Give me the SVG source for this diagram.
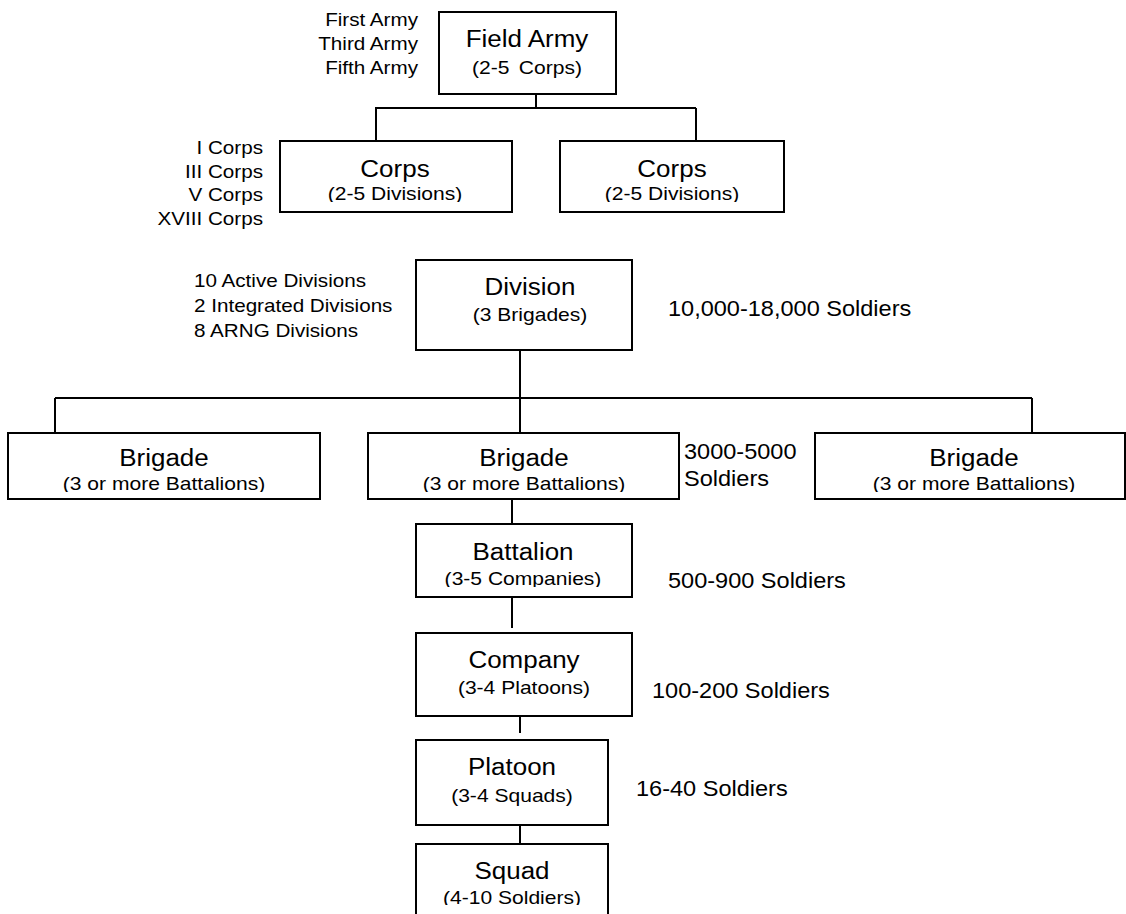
<svg xmlns="http://www.w3.org/2000/svg" width="1126" height="914" viewBox="0 0 1126 914">
<style>
text{font-family:"Liberation Sans",Arial,sans-serif;fill:#000}
.box{fill:#fff;stroke:#000;stroke-width:2}
.ln{fill:none;stroke:#000;stroke-width:2}
.ti{font-size:23px;text-anchor:middle}
.su{font-size:18px;text-anchor:middle}
.sl{font-size:17.5px}
.sr{font-size:17.5px;text-anchor:end}
.so{font-size:22px}
</style>
<defs>
<clipPath id="c-corps1"><rect x="280" y="141" width="232" height="61"/></clipPath>
<clipPath id="c-corps2"><rect x="560" y="141" width="224" height="61"/></clipPath>
<clipPath id="c-brig"><rect x="0" y="433" width="1126" height="59"/></clipPath>
<clipPath id="c-batt"><rect x="416" y="524" width="216" height="63"/></clipPath>
<clipPath id="c-squad"><rect x="416" y="844" width="192" height="61"/></clipPath>
</defs>
<rect width="1126" height="914" fill="#fff"/>
<g id="connectors">
<path class="ln" d="M536 94V108M375 108H696M376 108V141M696 108V141"/>
<path class="ln" d="M520 350V398M55 398H1032M55 398V433M520 398V433M1032 398V433"/>
<path class="ln" d="M512 499V524M512 597V628M520 716V733M520 813V844"/>
</g>
<g id="field-army">
<rect class="box" x="439" y="12" width="177" height="82"/>
<text class="ti" transform="translate(527 47) scale(1.13 1)">Field Army</text>
<text class="su" transform="translate(527 74) scale(1.17 1)" word-spacing="3">(2-5 Corps)</text>
</g>
<g id="army-labels">
<text class="sr" transform="translate(418 26) scale(1.18 1)">First Army</text>
<text class="sr" transform="translate(418 50) scale(1.18 1)">Third Army</text>
<text class="sr" transform="translate(418 74) scale(1.18 1)">Fifth Army</text>
</g>
<g id="corps-1">
<rect class="box" x="280" y="141" width="232" height="71"/>
<text class="ti" transform="translate(395 177) scale(1.13 1)">Corps</text>
<g clip-path="url(#c-corps1)"><text class="su" transform="translate(395 200) scale(1.17 1)">(2-5 Divisions)</text></g>
</g>
<g id="corps-2">
<rect class="box" x="560" y="141" width="224" height="71"/>
<text class="ti" transform="translate(672 177) scale(1.13 1)">Corps</text>
<g clip-path="url(#c-corps2)"><text class="su" transform="translate(672 200) scale(1.17 1)">(2-5 Divisions)</text></g>
</g>
<g id="corps-labels">
<text class="sr" transform="translate(263 154) scale(1.18 1)">I Corps</text>
<text class="sr" transform="translate(263 178) scale(1.18 1)">III Corps</text>
<text class="sr" transform="translate(263 201) scale(1.18 1)">V Corps</text>
<text class="sr" transform="translate(263 225) scale(1.18 1)">XVIII Corps</text>
</g>
<g id="division">
<rect class="box" x="416" y="260" width="216" height="90"/>
<text class="ti" transform="translate(530 295) scale(1.13 1)">Division</text>
<text class="su" transform="translate(530 321) scale(1.17 1)">(3 Brigades)</text>
</g>
<g id="division-labels">
<text class="sl" transform="translate(194 287) scale(1.18 1)">10 Active Divisions</text>
<text class="sl" transform="translate(194 312) scale(1.18 1)">2 Integrated Divisions</text>
<text class="sl" transform="translate(194 337) scale(1.18 1)">8 ARNG Divisions</text>
</g>
<text id="division-size" class="so" transform="translate(668 316) scale(1.07 1)">10,000-18,000 Soldiers</text>
<g id="brigade-1">
<rect class="box" x="8" y="433" width="312" height="66"/>
<text class="ti" transform="translate(164 466) scale(1.13 1)">Brigade</text>
<g clip-path="url(#c-brig)"><text class="su" transform="translate(164 490) scale(1.17 1)">(3 or more Battalions)</text></g>
</g>
<g id="brigade-2">
<rect class="box" x="368" y="433" width="311" height="66"/>
<text class="ti" transform="translate(524 466) scale(1.13 1)">Brigade</text>
<g clip-path="url(#c-brig)"><text class="su" transform="translate(524 490) scale(1.17 1)">(3 or more Battalions)</text></g>
</g>
<g id="brigade-3">
<rect class="box" x="815" y="433" width="310" height="66"/>
<text class="ti" transform="translate(974 466) scale(1.13 1)">Brigade</text>
<g clip-path="url(#c-brig)"><text class="su" transform="translate(974 490) scale(1.17 1)">(3 or more Battalions)</text></g>
</g>
<g id="brigade-size">
<text class="so" transform="translate(684 459) scale(1.07 1)">3000-5000</text>
<text class="so" transform="translate(684 486) scale(1.07 1)">Soldiers</text>
</g>
<g id="battalion">
<rect class="box" x="416" y="524" width="216" height="73"/>
<text class="ti" transform="translate(523 560) scale(1.13 1)">Battalion</text>
<g clip-path="url(#c-batt)"><text class="su" transform="translate(523 585) scale(1.17 1)">(3-5 Companies)</text></g>
</g>
<text id="battalion-size" class="so" transform="translate(668 588) scale(1.07 1)">500-900 Soldiers</text>
<g id="company">
<rect class="box" x="416" y="633" width="216" height="83"/>
<text class="ti" transform="translate(524 668) scale(1.13 1)">Company</text>
<text class="su" transform="translate(524 694) scale(1.17 1)">(3-4 Platoons)</text>
</g>
<text id="company-size" class="so" transform="translate(652 698) scale(1.07 1)">100-200 Soldiers</text>
<g id="platoon">
<rect class="box" x="416" y="740" width="192" height="85"/>
<text class="ti" transform="translate(512 775) scale(1.13 1)">Platoon</text>
<text class="su" transform="translate(512 802) scale(1.17 1)">(3-4 Squads)</text>
</g>
<text id="platoon-size" class="so" transform="translate(636 796) scale(1.07 1)">16-40 Soldiers</text>
<g id="squad">
<rect class="box" x="416" y="844" width="192" height="90"/>
<text class="ti" transform="translate(512 879) scale(1.13 1)">Squad</text>
<g clip-path="url(#c-squad)"><text class="su" transform="translate(512 904) scale(1.17 1)">(4-10 Soldiers)</text></g>
</g>
</svg>
